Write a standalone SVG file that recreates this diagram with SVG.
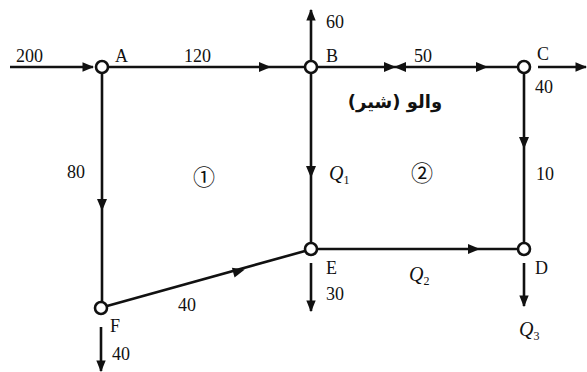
<svg xmlns="http://www.w3.org/2000/svg" width="587" height="372" viewBox="0 0 587 372">
<defs>
<style>
.ln{stroke:#111;stroke-width:2.6;fill:none}
.nd{fill:#fff;stroke:#111;stroke-width:2.6}
.t{font-family:"Liberation Serif","Times New Roman",serif;font-size:18px;fill:#111}
.q{font-family:"Liberation Serif","Times New Roman",serif;font-size:20px;font-style:italic;fill:#111}
.s{font-size:12px;font-style:normal}
.c{font-family:"Noto Sans CJK JP","DejaVu Sans",sans-serif;font-size:22px;fill:#111}
.fa{font-family:"DejaVu Sans","Noto Sans",sans-serif;font-size:18px;font-weight:bold;fill:#111}
.ah{fill:#111}
</style>
<marker id="end" viewBox="0 0 10 10" refX="9" refY="5" markerWidth="4.5" markerHeight="4.5" orient="auto" markerUnits="strokeWidth"><path d="M0,1 L10,5 L0,9 z" fill="#111"/></marker>
<path id="mid" d="M-6,-5 L6,0 L-6,5 z"/>
</defs>
<rect width="587" height="372" fill="#fff"/>
<g id="connectors">
<line class="ln" x1="10" y1="67" x2="93" y2="67" marker-end="url(#end)"/>
<line class="ln" x1="108" y1="67" x2="305" y2="67"/>
<line class="ln" x1="317" y1="67" x2="518" y2="67"/>
<line class="ln" x1="311" y1="61" x2="311" y2="10" marker-end="url(#end)"/>
<line class="ln" x1="538" y1="67" x2="586" y2="67" marker-end="url(#end)"/>
<line class="ln" x1="102" y1="73" x2="102" y2="302"/>
<line class="ln" x1="311" y1="73" x2="311" y2="243"/>
<line class="ln" x1="524" y1="73" x2="524" y2="243"/>
<line class="ln" x1="107" y1="306" x2="305" y2="251"/>
<line class="ln" x1="317" y1="249" x2="518" y2="249"/>
<line class="ln" x1="311" y1="263" x2="311" y2="311" marker-end="url(#end)"/>
<line class="ln" x1="524" y1="263" x2="524" y2="306" marker-end="url(#end)"/>
<line class="ln" x1="101" y1="327" x2="101" y2="371" marker-end="url(#end)"/>
<use href="#mid" class="ah" transform="translate(265,67)"/>
<use href="#mid" class="ah" transform="translate(390,67)"/>
<use href="#mid" class="ah" transform="translate(400,67) rotate(180)"/>
<use href="#mid" class="ah" transform="translate(482,67)"/>
<use href="#mid" class="ah" transform="translate(102,205) rotate(90)"/>
<use href="#mid" class="ah" transform="translate(311,172) rotate(90)"/>
<use href="#mid" class="ah" transform="translate(524,143) rotate(90)"/>
<use href="#mid" class="ah" transform="translate(239,271) rotate(-15.5)"/>
<use href="#mid" class="ah" transform="translate(474,249)"/>
</g>
<g id="A"><circle class="nd" cx="102" cy="67" r="6"/><text class="t" x="115" y="62">A</text></g>
<g id="B"><circle class="nd" cx="311" cy="67" r="6"/><text class="t" x="326" y="62">B</text></g>
<g id="C"><circle class="nd" cx="524" cy="67" r="6"/><text class="t" x="537" y="60">C</text></g>
<g id="D"><circle class="nd" cx="524" cy="249" r="6"/><text class="t" x="535" y="274">D</text></g>
<g id="E"><circle class="nd" cx="311" cy="249" r="6"/><text class="t" x="326" y="274">E</text></g>
<g id="F"><circle class="nd" cx="101" cy="308" r="6"/><text class="t" x="110" y="332">F</text></g>
<g id="labels">
<text class="t" x="16" y="62">200</text>
<text class="t" x="184" y="62">120</text>
<text class="t" x="326" y="28">60</text>
<text class="t" x="414" y="62">50</text>
<text class="t" x="535" y="93">40</text>
<text class="fa" x="395" y="108" text-anchor="middle" direction="rtl">والو (شیر)</text>
<text class="t" x="67" y="178">80</text>
<text class="c" x="204" y="185" text-anchor="middle">①</text>
<text class="q" x="329" y="180">Q<tspan class="s" dy="4">1</tspan></text>
<text class="c" x="422" y="181" text-anchor="middle">②</text>
<text class="t" x="536" y="180">10</text>
<text class="t" x="178" y="311">40</text>
<text class="q" x="409" y="281">Q<tspan class="s" dy="4">2</tspan></text>
<text class="t" x="326" y="300">30</text>
<text class="q" x="519" y="336">Q<tspan class="s" dy="4">3</tspan></text>
<text class="t" x="112" y="360">40</text>
</g>
</svg>
